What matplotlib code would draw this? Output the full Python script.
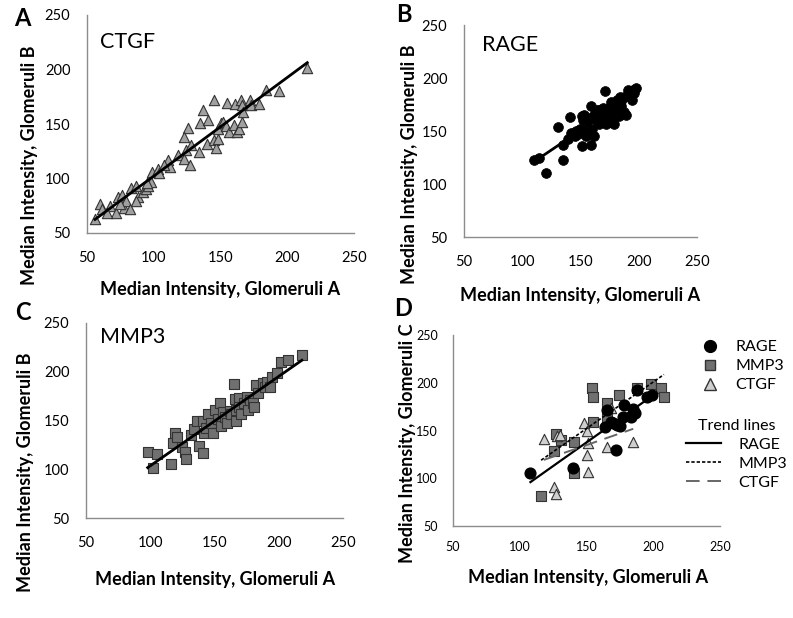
import matplotlib
matplotlib.use('Agg')
import matplotlib.pyplot as plt
import numpy as np
from matplotlib.lines import Line2D

plt.rcParams['font.family'] = ['Lato', 'DejaVu Sans']

# ---------------- data ----------------
ticks = [50, 100, 150, 200, 250]

ctgf_a_x = [56, 60, 61, 67, 72, 73, 76, 78, 79, 82, 83, 87, 88, 87, 92, 94, 96, 98, 99, 103,
            104, 111, 112, 118, 123, 124, 126, 123, 127, 128, 134, 135, 137, 141, 140, 145, 145, 147, 148, 148,
            150, 152, 154, 155, 156, 160, 161, 162, 164, 165, 166, 166, 167, 172, 173, 179, 184, 194, 215,
            65, 75, 95, 108]
ctgf_a_y = [63, 77, 72, 75, 68, 83, 85, 73, 79, 72, 91, 93, 83, 79, 88, 90, 93, 97, 106, 109,
            105, 117, 111, 122, 118, 126, 146, 138, 112, 131, 124, 151, 163, 154, 132, 172, 135, 128, 136, 145,
            151, 152, 148, 169, 143, 149, 168, 143, 145, 172, 167, 152, 161, 172, 167, 168, 181, 180, 201,
            68, 77, 96, 112]

rage_b_x = [110, 114, 120, 131, 135, 135, 139, 141, 142, 145, 151, 153, 154, 155, 156, 159, 160, 162, 162, 159,
            166, 169, 171, 172, 174, 176, 178, 179, 181, 182, 184, 185, 187, 187, 189, 191, 192, 194, 195, 198,
            183, 166, 151, 148, 157, 163, 168, 170, 175, 180, 164, 158, 150, 146, 173, 177, 185, 190, 196, 152]
rage_b_y = [123, 125, 110, 154, 137, 123, 142, 163, 148, 145, 136, 165, 148, 145, 159, 137, 152, 145, 165, 174,
            157, 172, 188, 157, 167, 177, 164, 157, 179, 170, 182, 174, 168, 182, 165, 189, 186, 179, 189, 191,
            164, 170, 164, 147, 150, 160, 163, 167, 173, 175, 170, 162, 152, 150, 160, 170, 178, 183, 186, 160]

mmp3_c_x = [98, 102, 105, 116, 119, 118, 121, 125, 127, 128, 132, 134, 136, 138, 141, 141, 142, 143, 145, 147,
            149, 150, 153, 154, 155, 157, 158, 160, 162, 163, 165, 166, 167, 167, 169, 169, 171, 173, 175, 176,
            178, 180, 181, 182, 184, 188, 189, 191, 193, 195, 199, 202, 207, 218]
mmp3_c_y = [118, 101, 116, 105, 137, 127, 133, 123, 118, 111, 135, 141, 149, 124, 117, 149, 137, 142, 157, 147,
            137, 161, 152, 168, 144, 159, 154, 147, 160, 157, 187, 172, 161, 149, 173, 164, 157, 168, 174, 161,
            171, 168, 164, 186, 178, 188, 184, 190, 184, 195, 199, 210, 212, 217]

rage_d_x = [108, 140, 172, 164, 165, 168, 170, 173, 175, 177, 178, 183, 185, 186, 188, 195, 199]
rage_d_y = [106, 111, 130, 154, 171, 159, 158, 156, 155, 164, 177, 164, 173, 168, 192, 185, 187]
mmp3_d_x = [116, 126, 127, 131, 141, 141, 154, 155, 155, 165, 165, 174, 188, 198, 206, 208]
mmp3_d_y = [81, 129, 146, 140, 105, 138, 195, 185, 159, 179, 163, 187, 194, 199, 194, 185]
ctgf_d_x = [118, 128, 130, 126, 127, 148, 150, 151, 150, 151, 165, 168, 185]
ctgf_d_y = [141, 144, 145, 91, 84, 158, 150, 137, 124, 107, 133, 174, 138]

series_names = ['RAGE', 'MMP3', 'CTGF']
xlabel = 'Median Intensity, Glomeruli A'
ylabel_b = 'Median Intensity, Glomeruli B'
ylabel_c = 'Median Intensity, Glomeruli C'

# ---------------- layout helpers ----------------
W, H = 793, 618
fig = plt.figure(figsize=(W / 100, H / 100), dpi=100)


def rect(l, t, r, b):
    return [l / W, 1 - b / H, (r - l) / W, (b - t) / H]


def fpos(x, y):
    return (x / W, 1 - y / H)


def style(ax, fs, padx, pady):
    ax.set_xlim(50, 250)
    ax.set_ylim(50, 250)
    ax.set_xticks(ticks)
    ax.set_yticks(ticks)
    for s in ['top', 'right']:
        ax.spines[s].set_visible(False)
    for s in ['left', 'bottom']:
        ax.spines[s].set_color('#8c8c8c')
        ax.spines[s].set_linewidth(1.0)
    ax.tick_params(axis='both', length=0, labelsize=fs)
    ax.tick_params(axis='x', pad=padx)
    ax.tick_params(axis='y', pad=pady)


def trend(ax, x, y, **kw):
    p = np.polyfit(x, y, 1)
    xs = np.array([min(x), max(x)])
    ax.plot(xs, np.polyval(p, xs), **kw)


TRI_DARK = '#a0a0a0'
TRI_LIGHT = '#cfcfcf'
SQ = '#707070'
EDGE = '#333333'

# ---------------- Panel A ----------------
axA = fig.add_axes(rect(87, 15, 354, 233))
style(axA, 10.5, 13, 12)
axA.scatter(ctgf_a_x, ctgf_a_y, marker='^', s=55, c=TRI_DARK, edgecolors=EDGE, linewidths=0.8, zorder=2, clip_on=False)
trend(axA, ctgf_a_x, ctgf_a_y, color='black', lw=2.0, zorder=3)
fig.text(*fpos(100, 42), 'CTGF', fontsize=15.5, ha='left', va='center')

# ---------------- Panel B ----------------
axB = fig.add_axes(rect(464, 25, 697, 237))
style(axB, 10.5, 13, 12)
axB.scatter(rage_b_x, rage_b_y, marker='o', s=50, c='black', edgecolors='black', linewidths=0.5, zorder=2)
trend(axB, rage_b_x, rage_b_y, color='black', lw=2.0, zorder=3)
fig.text(*fpos(482, 45), 'RAGE', fontsize=15.5, ha='left', va='center')

# ---------------- Panel C ----------------
axC = fig.add_axes(rect(86, 323, 343, 518))
style(axC, 10.5, 13, 12)
axC.scatter(mmp3_c_x, mmp3_c_y, marker='s', s=50, c=SQ, edgecolors=EDGE, linewidths=0.8, zorder=2)
trend(axC, mmp3_c_x, mmp3_c_y, color='black', lw=2.0, zorder=3)
fig.text(*fpos(100, 337), 'MMP3', fontsize=15.5, ha='left', va='center')

# ---------------- Panel D ----------------
axD = fig.add_axes(rect(453, 335, 720, 526))
style(axD, 9, 11, 11)
axD.scatter(rage_d_x, rage_d_y, marker='o', s=60, c='black', zorder=3)
axD.scatter(mmp3_d_x, mmp3_d_y, marker='s', s=45, c=SQ, edgecolors=EDGE, linewidths=0.8, zorder=2)
axD.scatter(ctgf_d_x, ctgf_d_y, marker='^', s=55, c=TRI_LIGHT, edgecolors=EDGE, linewidths=0.8, zorder=2)
styles = [dict(color='black', lw=1.6, ls='-'),
          dict(color='black', lw=1.2, ls=(0, (2.0, 1.2))),
          dict(color='#666666', lw=1.4, ls=(0, (7, 4)))]
trend(axD, rage_d_x, rage_d_y, zorder=4, **styles[0])
trend(axD, mmp3_d_x, mmp3_d_y, zorder=4, **styles[1])
trend(axD, ctgf_d_x, ctgf_d_y, zorder=4, **styles[2])

hm = [Line2D([], [], ls='none', marker='o', ms=8.5, mfc='black', mec='black'),
      Line2D([], [], ls='none', marker='s', ms=6.5, mfc=SQ, mec=EDGE),
      Line2D([], [], ls='none', marker='^', ms=8, mfc=TRI_LIGHT, mec=EDGE)]
leg1 = axD.legend(hm, series_names, loc='upper left', bbox_to_anchor=fpos(702, 340),
                  bbox_transform=fig.transFigure, frameon=False, fontsize=11.5,
                  handlelength=1.0, handletextpad=1.1, labelspacing=0.3, borderpad=0, borderaxespad=0)
axD.add_artist(leg1)
hl = [Line2D([], [], **st) for st in styles]
leg2 = axD.legend(hl, series_names, title='Trend lines', loc='upper left', bbox_to_anchor=fpos(686, 419),
                  bbox_transform=fig.transFigure, frameon=False, fontsize=11.5, title_fontsize=11.5,
                  handlelength=2.2, handletextpad=1.1, labelspacing=0.3, borderpad=0, borderaxespad=0)

# ---------------- labels ----------------
for (x, y, t) in [(22, 18, 'A'), (404, 15, 'B'), (23, 312, 'C'), (403, 308, 'D')]:
    fig.text(*fpos(x, y), t, fontsize=17, fontweight='bold', ha='center', va='center')

for (x, y, t) in [(30, 165, ylabel_b), (409, 164, ylabel_b), (26, 472, ylabel_b), (407, 443, ylabel_c)]:
    fig.text(*fpos(x, y), t, fontsize=13, fontweight='bold', rotation=90, ha='center', va='center')

for (x, y) in [(220, 290), (580, 296), (215, 580), (588, 578)]:
    fig.text(*fpos(x, y), xlabel, fontsize=13, fontweight='bold', ha='center', va='center')

fig.savefig('out.png', dpi=100)
